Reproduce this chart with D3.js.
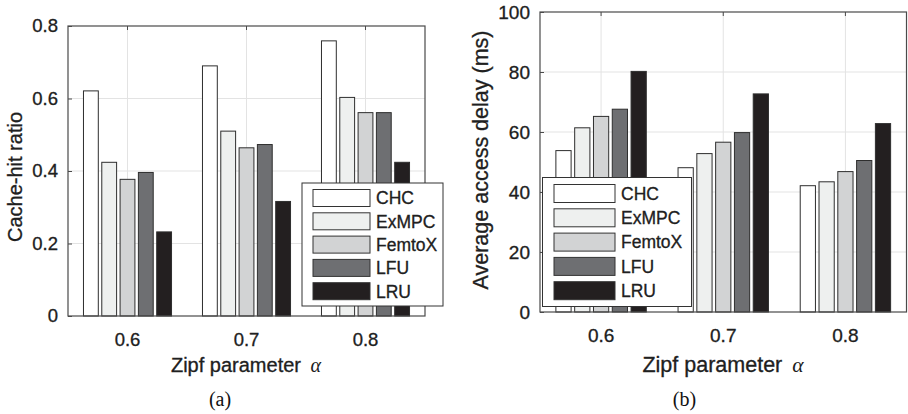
<!DOCTYPE html>
<html><head><meta charset="utf-8">
<script src="https://cdn.jsdelivr.net/npm/d3@7"></script>
<style>body{margin:0;background:#fff}svg{display:block}</style>
</head><body>
<svg id="c" width="908" height="414"></svg>
<script>
const categories = ["0.6", "0.7", "0.8"];
const seriesNames = ["CHC", "ExMPC", "FemtoX", "LFU", "LRU"];
const seriesColors = ["#ffffff", "#eef0ef", "#d2d3d4", "#6e6f72", "#231f20"];
// (a) Cache-hit ratio, per series across categories
const hitCHC    = [0.621, 0.690, 0.759];
const hitExMPC  = [0.424, 0.510, 0.603];
const hitFemtoX = [0.377, 0.464, 0.561];
const hitLFU    = [0.396, 0.473, 0.561];
const hitLRU    = [0.232, 0.316, 0.424];
// (b) Average access delay (ms)
const delCHC    = [53.8, 48.1, 42.1];
const delExMPC  = [61.4, 52.8, 43.4];
const delFemtoX = [65.2, 56.6, 46.8];
const delLFU    = [67.6, 59.8, 50.5];
const delLRU    = [80.2, 72.7, 62.8];
const hitTicks = [0, 0.2, 0.4, 0.6, 0.8];
const delTicks = [0, 20, 40, 60, 80, 100];

const svg = d3.select("#c");
const FONT = "'Liberation Sans', Arial, Helvetica, sans-serif";
const SERIF = "'Liberation Serif', 'Times New Roman', serif";
const TXT = "#202020";

function heavy(sel) {
  return sel.attr("fill", TXT).attr("stroke", TXT).attr("stroke-width", 0.3);
}

function panel(o) {
  const g = svg.append("g");
  const x = d3.scaleBand().domain(categories).range([o.x0, o.x1]).paddingInner(0).paddingOuter(0);
  const y = d3.scaleLinear().domain(o.domain).range([o.y1, o.y0]);
  const gw = x.bandwidth() * 0.74;
  const sub = d3.scaleBand().domain(seriesNames).range([0, gw]).paddingInner(0.19);

  // grid
  g.append("g").selectAll("line.h").data(o.ticks.slice(1, -1)).join("line")
    .attr("x1", o.x0).attr("x2", o.x1).attr("y1", d => y(d)).attr("y2", d => y(d))
    .attr("stroke", "#e3e3e3").attr("stroke-width", 1);
  g.append("g").selectAll("line.v").data(categories).join("line")
    .attr("x1", d => x(d) + x.bandwidth() / 2).attr("x2", d => x(d) + x.bandwidth() / 2)
    .attr("y1", o.y0).attr("y2", o.y1)
    .attr("stroke", "#e3e3e3").attr("stroke-width", 1);

  // bars
  o.series.forEach((vals, si) => {
    g.append("g").selectAll("rect").data(vals).join("rect")
      .attr("x", (d, i) => x(categories[i]) + (x.bandwidth() - gw) / 2 + sub(seriesNames[si]))
      .attr("width", sub.bandwidth())
      .attr("y", d => y(d))
      .attr("height", d => y(0) - y(d))
      .attr("fill", seriesColors[si])
      .attr("stroke", "#2e2e2e").attr("stroke-width", 1);
  });

  // box
  g.append("rect").attr("x", o.x0).attr("y", o.y0).attr("width", o.x1 - o.x0).attr("height", o.y1 - o.y0)
    .attr("fill", "none").attr("stroke", "#4a4a4a").attr("stroke-width", 1.2);

  // axes
  const ya = d3.axisLeft(y).tickValues(o.ticks).tickFormat(o.fmt).tickSize(-4).tickPadding(10);
  const yg = g.append("g").attr("transform", `translate(${o.x0},0)`).call(ya);
  const xa = d3.axisBottom(x).tickSize(0).tickPadding(17);
  const xg = g.append("g").attr("transform", `translate(0,${o.y1})`).call(xa);
  [yg, xg].forEach(a => {
    a.select(".domain").remove();
    a.selectAll(".tick line").attr("stroke", "#4a4a4a");
    heavy(a.selectAll("text").attr("font-family", FONT).attr("font-size", o.tickFs));
  });
  // top ticks
  g.append("g").selectAll("line").data(categories).join("line")
    .attr("x1", d => x(d) + x.bandwidth() / 2).attr("x2", d => x(d) + x.bandwidth() / 2)
    .attr("y1", o.y0).attr("y2", o.y0 + 4).attr("stroke", "#4a4a4a");

  // y title
  heavy(g.append("text").attr("transform", `translate(${o.ytx},${o.yty}) rotate(-90)`)
    .attr("text-anchor", "middle").attr("font-family", FONT).attr("font-size", o.titleFs))
    .text(o.ytitle);
  // x title
  const xt = heavy(g.append("text").attr("x", o.xtx).attr("y", 372).attr("text-anchor", "middle")
    .attr("font-family", FONT).attr("font-size", o.titleFs));
  xt.append("tspan").text("Zipf parameter ");
  xt.append("tspan").attr("dx", 4).attr("font-family", SERIF)
    .attr("font-style", "italic").attr("stroke-width", 0).text("α");
  // caption
  g.append("text").attr("x", o.capx).attr("y", 406).attr("text-anchor", "middle")
    .attr("font-family", SERIF).attr("font-size", 20)
    .attr("fill", "#111").text(o.caption);

  // legend
  const L = o.legend;
  const lg = g.append("g");
  lg.append("rect").attr("x", L.x).attr("y", L.y).attr("width", L.w).attr("height", L.h)
    .attr("fill", "#fff").attr("stroke", "#333").attr("stroke-width", 1);
  seriesNames.forEach((s, i) => {
    lg.append("rect").attr("x", L.sx).attr("y", L.sy + i * L.pitch).attr("width", L.sw).attr("height", L.sh)
      .attr("fill", seriesColors[i]).attr("stroke", "#333").attr("stroke-width", 1);
    heavy(lg.append("text").attr("x", L.tx).attr("y", L.sy + i * L.pitch + L.sh / 2).attr("dy", "0.36em")
      .attr("font-family", FONT).attr("font-size", 17.5)).text(s);
  });
}

panel({
  x0: 68, x1: 425, y0: 26, y1: 316, domain: [0, 0.8], ticks: hitTicks,
  fmt: d => d === 0 ? "0" : d3.format(".1f")(d),
  series: [hitCHC, hitExMPC, hitFemtoX, hitLFU, hitLRU],
  tickFs: 18.5, titleFs: 20, ytitle: "Cache-hit ratio", ytx: 22, yty: 177, xtx: 246,
  capx: 220, caption: "(a)",
  legend: {x: 302, y: 183, w: 141, h: 123, sx: 313, sy: 189.5, sw: 57, sh: 17, pitch: 23.3, tx: 376}
});
panel({
  x0: 540, x1: 906.5, y0: 12, y1: 312, domain: [0, 100], ticks: delTicks,
  fmt: d3.format("d"),
  series: [delCHC, delExMPC, delFemtoX, delLFU, delLRU],
  tickFs: 19, titleFs: 21.5, ytitle: "Average access delay (ms)", ytx: 488, yty: 160, xtx: 723,
  capx: 684.5, caption: "(b)",
  legend: {x: 542.5, y: 177.5, w: 149, h: 129, sx: 554, sy: 184.5, sw: 61, sh: 18, pitch: 24.3, tx: 621}
});
</script>
</body></html>
